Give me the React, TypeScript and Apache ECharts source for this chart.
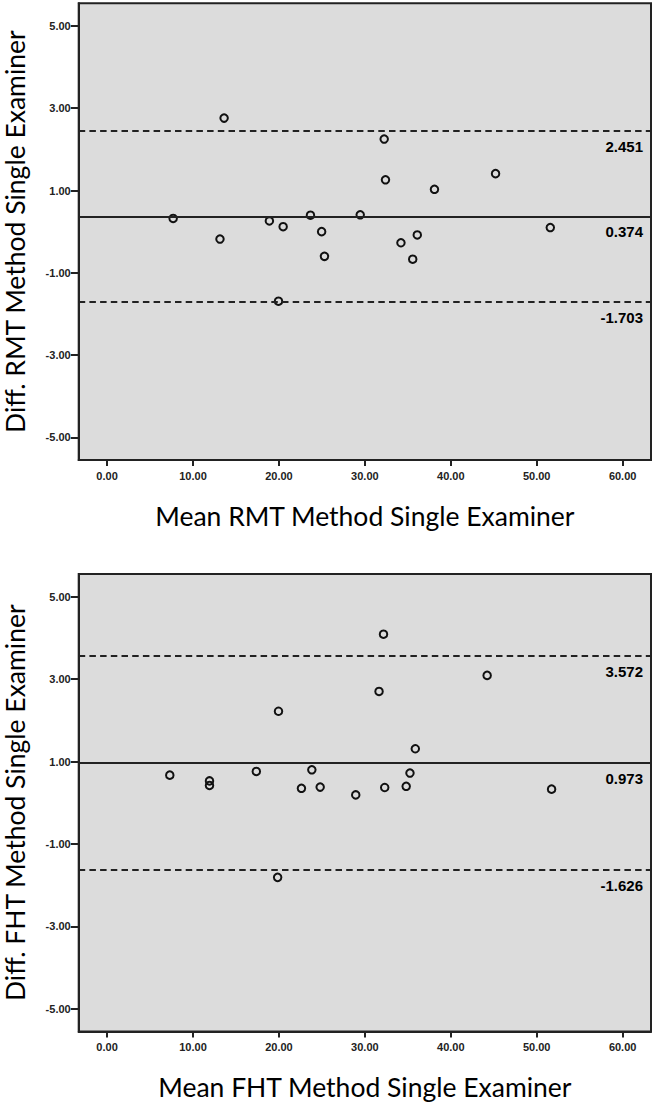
import React, { useEffect, useRef } from "react";
import * as echarts from "echarts";

const xTicks = [0, 10, 20, 30, 40, 50, 60];
const yTicks = [-5, -3, -1, 1, 3, 5];

const rmtMean = [7.69, 13.62, 13.14, 18.89, 20.49, 23.67, 24.97, 25.3, 29.46, 32.25, 32.4, 34.2, 36.1, 35.57, 38.1, 45.21, 51.58, 19.95];
const rmtDiff = [0.32, 2.76, -0.18, 0.26, 0.12, 0.4, 0.0, -0.6, 0.41, 2.25, 1.26, -0.27, -0.08, -0.67, 1.03, 1.41, 0.1, -1.69];
const rmtLimits = [2.451, 0.374, -1.703];

const fhtMean = [32.17, 44.23, 31.65, 19.95, 35.87, 7.3, 11.92, 11.92, 17.37, 23.83, 35.25, 22.62, 24.8, 28.94, 32.31, 34.81, 51.73, 19.85];
const fhtDiff = [4.09, 3.09, 2.7, 2.22, 1.31, 0.67, 0.53, 0.42, 0.76, 0.8, 0.72, 0.35, 0.38, 0.19, 0.37, 0.4, 0.33, -1.81];
const fhtLimits = [3.572, 0.973, -1.626];

const xTitles = ["Mean RMT Method Single Examiner", "Mean FHT Method Single Examiner"];
const yTitles = ["Diff. RMT Method Single Examiner", "Diff. FHT Method Single Examiner"];

const TITLE_FONT = "Lato, 'Open Sans', sans-serif";
const TICK_FONT = "'Liberation Sans', Arial, sans-serif";

function makeX(i: number) {
  return {
    type: "value",
    gridIndex: i,
    min: -3.3,
    max: 63.3,
    splitLine: { show: false },
    axisLine: { show: true, onZero: false, lineStyle: { color: "#222", width: 2 } },
    axisTick: { show: true, length: 6, customValues: xTicks, lineStyle: { color: "#222", width: 2 } },
    axisLabel: {
      customValues: xTicks,
      margin: 10,
      fontSize: 11,
      fontWeight: "bold",
      color: "#222",
      fontFamily: TICK_FONT,
      formatter: (v: number) => v.toFixed(2),
    },
    name: xTitles[i],
    nameLocation: "middle",
    nameGap: 42,
    nameTextStyle: { fontSize: 26.5, color: "#000", fontFamily: TITLE_FONT },
  };
}

function makeY(i: number) {
  return {
    type: "value",
    gridIndex: i,
    min: -5.55,
    max: 5.55,
    splitLine: { show: false },
    axisLine: { show: true, onZero: false, lineStyle: { color: "#222", width: 2 } },
    axisTick: { show: true, length: 8, customValues: yTicks, lineStyle: { color: "#222", width: 2 } },
    axisLabel: {
      customValues: yTicks,
      margin: 8,
      fontSize: 11,
      fontWeight: "bold",
      color: "#222",
      fontFamily: TICK_FONT,
      formatter: (v: number) => v.toFixed(2),
    },
    name: yTitles[i],
    nameLocation: "middle",
    nameGap: 50,
    nameTextStyle: { fontSize: 26.5, color: "#000", fontFamily: TITLE_FONT },
  };
}

function makeSeries(i: number, xs: number[], ys: number[], limits: number[]) {
  return {
    type: "scatter",
    xAxisIndex: i,
    yAxisIndex: i,
    symbol: "circle",
    symbolSize: 7.5,
    itemStyle: { color: "rgba(0,0,0,0)", borderColor: "#111", borderWidth: 2, opacity: 1 },
    data: xs.map((x, k) => [x, ys[k]]),
    markLine: {
      silent: true,
      symbol: ["none", "none"],
      data: limits.map((v, k) => ({
        yAxis: v,
        lineStyle: { color: "#222", width: 2, type: k === 1 ? "solid" : [6.5, 4.2] },
        label: {
          show: true,
          position: "insideEndBottom",
          distance: [8, 8],
          formatter: v.toFixed(3),
          fontSize: 15,
          fontWeight: "bold",
          color: "#000",
          fontFamily: TICK_FONT,
        },
      })),
    },
  };
}

export default function App() {
  const ref = useRef<HTMLDivElement>(null);
  useEffect(() => {
    if (!ref.current) return;
    const chart = echarts.init(ref.current, null, { renderer: "svg" });
    const gridBase = {
      show: true,
      left: 78.7,
      width: 572.3,
      backgroundColor: "#dcdcdc",
      borderColor: "#222",
      borderWidth: 2,
      containLabel: false,
      outerBoundsMode: "none",
    };
    chart.setOption({
      animation: false,
      backgroundColor: "#fff",
      grid: [
        { ...gridBase, top: 3.3, height: 456.7 },
        { ...gridBase, top: 574, height: 457.5 },
      ],
      xAxis: [makeX(0), makeX(1)],
      yAxis: [makeY(0), makeY(1)],
      series: [
        makeSeries(0, rmtMean, rmtDiff, rmtLimits),
        makeSeries(1, fhtMean, fhtDiff, fhtLimits),
      ],
    });
    return () => chart.dispose();
  }, []);
  return (
    <div
      ref={ref}
      style={{ position: "absolute", left: 0, top: 0, width: 656, height: 1103, background: "#fff" }}
    />
  );
}
